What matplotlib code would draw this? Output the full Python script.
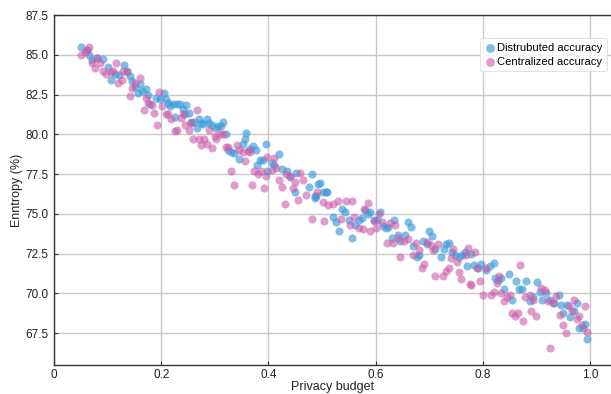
import matplotlib
matplotlib.use("Agg")
import matplotlib.pyplot as plt
from matplotlib.ticker import FuncFormatter

plt.rcParams['font.family'] = ['Liberation Sans', 'DejaVu Sans']

# Distributed accuracy (blue)
dist_x = [0.050, 0.062, 0.065, 0.070, 0.080, 0.091, 0.100, 0.106, 0.114, 0.121,
          0.131, 0.137, 0.141, 0.146, 0.151, 0.157, 0.160, 0.165, 0.171, 0.176,
          0.179, 0.190, 0.197, 0.206, 0.208, 0.212, 0.216, 0.222, 0.226, 0.230,
          0.235, 0.241, 0.245, 0.246, 0.251, 0.256, 0.262, 0.266, 0.270, 0.274,
          0.278, 0.285, 0.289, 0.295, 0.302, 0.306, 0.311, 0.316, 0.321, 0.325,
          0.330, 0.335, 0.346, 0.352, 0.356, 0.359, 0.366, 0.372, 0.376, 0.379,
          0.384, 0.389, 0.395, 0.398, 0.406, 0.410, 0.420, 0.426, 0.434, 0.440,
          0.450, 0.451, 0.476, 0.481, 0.486, 0.487, 0.488, 0.493, 0.496, 0.502,
          0.507, 0.510, 0.521, 0.526, 0.531, 0.537, 0.543, 0.551, 0.555, 0.561,
          0.568, 0.574, 0.580, 0.586, 0.590, 0.596, 0.602, 0.608, 0.613, 0.619,
          0.623, 0.630, 0.635, 0.641, 0.645, 0.655, 0.660, 0.666, 0.670, 0.677,
          0.680, 0.689, 0.695, 0.700, 0.706, 0.711, 0.722, 0.727, 0.732, 0.736,
          0.743, 0.748, 0.755, 0.761, 0.766, 0.770, 0.778, 0.784, 0.791, 0.796,
          0.805, 0.813, 0.820, 0.822, 0.828, 0.833, 0.840, 0.848, 0.855, 0.861,
          0.867, 0.873, 0.881, 0.888, 0.894, 0.901, 0.906, 0.911, 0.917, 0.925,
          0.932, 0.942, 0.945, 0.950, 0.956, 0.962, 0.970, 0.976, 0.980, 0.986,
          0.990, 0.995]
dist_y = [85.52, 85.29, 85.00, 84.70, 84.80, 84.75, 84.23, 83.40, 83.80, 83.70,
          84.35, 84.00, 83.66, 83.35, 82.96, 82.58, 83.16, 82.70, 82.83, 82.46,
          81.90, 82.30, 82.20, 82.58, 82.20, 82.00, 81.75, 81.90, 81.10, 81.90,
          81.90, 81.58, 81.30, 81.85, 81.33, 80.75, 80.80, 80.40, 80.98, 80.70,
          80.65, 80.94, 80.70, 80.60, 80.37, 80.50, 80.50, 80.80, 80.02, 79.04,
          78.90, 78.80, 78.46, 79.40, 79.70, 80.08, 79.10, 79.29, 79.00, 78.10,
          78.40, 78.40, 79.37, 77.70, 78.20, 78.10, 78.75, 77.80, 77.70, 77.30,
          76.40, 77.60, 76.70, 77.50, 76.00, 76.10, 76.10, 76.90, 76.95, 76.40,
          76.40, 76.40, 74.80, 74.50, 73.90, 75.30, 75.10, 74.60, 73.50, 74.30,
          74.60, 74.75, 75.25, 75.00, 75.10, 74.60, 74.60, 75.10, 74.25, 74.10,
          74.20, 73.50, 74.60, 73.70, 73.30, 73.70, 74.50, 74.20, 72.96, 72.27,
          72.40, 73.30, 73.10, 73.90, 73.60, 72.80, 72.30, 72.80, 73.10, 73.20,
          72.60, 72.40, 72.30, 72.40, 72.60, 71.70, 72.50, 71.80, 71.60, 71.85,
          71.50, 71.70, 71.90, 70.96, 70.86, 70.96, 70.30, 71.20, 69.60, 70.80,
          70.30, 70.26, 70.80, 69.50, 69.80, 70.70, 70.10, 69.60, 70.00, 69.60,
          69.40, 69.90, 69.30, 68.80, 69.30, 68.50, 68.90, 69.40, 67.83, 67.83,
          68.10, 67.16]

# Centralized accuracy (magenta)
cent_x = [0.050, 0.058, 0.062, 0.065, 0.070, 0.076, 0.081, 0.086, 0.091, 0.097,
          0.106, 0.110, 0.116, 0.120, 0.126, 0.129, 0.136, 0.141, 0.145, 0.151,
          0.160, 0.167, 0.171, 0.176, 0.182, 0.187, 0.192, 0.195, 0.201, 0.209,
          0.213, 0.219, 0.226, 0.230, 0.236, 0.240, 0.245, 0.251, 0.255, 0.260,
          0.266, 0.270, 0.274, 0.280, 0.285, 0.289, 0.295, 0.300, 0.303, 0.310,
          0.315, 0.321, 0.325, 0.330, 0.336, 0.341, 0.346, 0.352, 0.356, 0.361,
          0.366, 0.370, 0.374, 0.381, 0.387, 0.391, 0.395, 0.398, 0.406, 0.411,
          0.415, 0.420, 0.426, 0.431, 0.432, 0.440, 0.445, 0.450, 0.455, 0.459,
          0.465, 0.470, 0.481, 0.490, 0.502, 0.504, 0.512, 0.521, 0.530, 0.535,
          0.545, 0.552, 0.555, 0.560, 0.568, 0.576, 0.579, 0.585, 0.590, 0.597,
          0.601, 0.606, 0.611, 0.621, 0.626, 0.632, 0.636, 0.641, 0.645, 0.652,
          0.661, 0.669, 0.675, 0.681, 0.686, 0.691, 0.695, 0.703, 0.707, 0.711,
          0.716, 0.725, 0.731, 0.737, 0.740, 0.744, 0.751, 0.756, 0.760, 0.768,
          0.772, 0.776, 0.778, 0.785, 0.789, 0.795, 0.800, 0.806, 0.815, 0.820,
          0.826, 0.831, 0.834, 0.840, 0.845, 0.850, 0.854, 0.860, 0.866, 0.869,
          0.874, 0.879, 0.887, 0.889, 0.894, 0.900, 0.908, 0.916, 0.922, 0.925,
          0.930, 0.936, 0.944, 0.950, 0.955, 0.961, 0.966, 0.970, 0.975, 0.980,
          0.985, 0.990, 0.995]
cent_y = [84.96, 85.20, 85.30, 85.50, 84.50, 84.20, 84.80, 84.50, 84.00, 83.80,
          83.90, 84.00, 84.46, 83.20, 83.40, 84.00, 83.90, 82.38, 82.90, 83.20,
          83.56, 81.52, 82.30, 82.00, 81.85, 81.31, 80.60, 82.67, 81.76, 81.30,
          81.30, 80.96, 80.23, 80.30, 81.00, 81.30, 80.60, 80.30, 80.70, 79.70,
          81.50, 79.70, 79.35, 79.70, 79.40, 80.30, 79.14, 79.90, 79.70, 80.00,
          80.00, 79.20, 79.20, 77.70, 76.83, 79.30, 79.00, 78.90, 78.30, 78.95,
          78.90, 76.80, 77.70, 77.50, 77.70, 76.60, 77.35, 78.55, 77.75, 78.50,
          77.90, 77.10, 76.70, 75.60, 77.50, 77.40, 76.60, 77.00, 75.90, 77.60,
          77.10, 76.20, 74.66, 76.40, 75.75, 74.56, 75.55, 75.60, 75.80, 74.70,
          75.80, 74.30, 75.80, 74.80, 74.10, 74.04, 75.30, 75.70, 73.90, 74.56,
          74.10, 75.00, 74.50, 73.20, 74.40, 73.14, 74.30, 73.50, 72.27, 73.30,
          73.40, 72.40, 73.20, 72.70, 71.58, 71.85, 73.25, 73.04, 72.70, 71.10,
          73.08, 71.10, 71.40, 71.60, 72.25, 72.80, 72.00, 71.33, 70.90, 72.40,
          72.87, 70.58, 70.50, 72.60, 71.60, 70.80, 69.87, 71.60, 69.87, 70.10,
          70.64, 71.10, 70.00, 69.50, 69.80, 69.90, 68.77, 68.60, 68.80, 71.80,
          68.25, 69.80, 69.90, 68.90, 69.60, 68.60, 70.35, 70.20, 69.50, 66.58,
          69.40, 69.85, 68.66, 68.04, 67.50, 69.20, 68.90, 69.60, 68.40, 68.60,
          68.00, 69.20, 67.56]

x_ticks = [0, 0.2, 0.4, 0.6, 0.8, 1.0]
y_ticks = [67.5, 70.0, 72.5, 75.0, 77.5, 80.0, 82.5, 85.0, 87.5]

W, H = 611, 394
fig = plt.figure(figsize=(W / 100, H / 100), dpi=100)
ax = fig.add_axes([54 / W, 29 / H, (611 - 54) / W, 350 / H])

ax.scatter(dist_x, dist_y, s=34, color='#3a9ad9', alpha=0.65, linewidths=0,
           label='Distrubuted accuracy', zorder=3)
ax.scatter(cent_x, cent_y, s=34, color='#cc5aa8', alpha=0.6, linewidths=0,
           label='Centralized accuracy', zorder=3)

ax.set_xlim(0, 1.039)
ax.set_ylim(65.5, 87.5)
ax.set_xticks(x_ticks)
ax.set_yticks(y_ticks)
ax.xaxis.set_major_formatter(FuncFormatter(lambda v, p: '0' if v == 0 else f'{v:.1f}'))
ax.yaxis.set_major_formatter(FuncFormatter(lambda v, p: f'{v:.1f}'))
ax.grid(True, color='#c8c8c8', linewidth=1.0, zorder=0)
ax.set_axisbelow(True)
for side in ['left', 'bottom', 'top']:
    ax.spines[side].set_color('#333333')
    ax.spines[side].set_linewidth(1.0)
ax.spines['right'].set_visible(False)
ax.tick_params(axis='both', labelsize=8.5, length=3, direction='in',
               color='#333333', labelcolor='#222222')
ax.tick_params(axis='x', pad=3)
ax.tick_params(axis='y', pad=4)

ax.set_xlabel('Privacy budget', fontsize=9, color='#222222', labelpad=0)
ax.set_ylabel('Enntropy (%)', fontsize=9, color='#222222', labelpad=2)

leg = ax.legend(loc='upper right', bbox_to_anchor=(0.993, 0.934), borderaxespad=0,
                fontsize=8, frameon=True, fancybox=True, handletextpad=0.2,
                handlelength=1.0, borderpad=0.4, labelspacing=0.4, markerscale=1.1)
leg.get_frame().set_edgecolor('#dddddd')
leg.get_frame().set_linewidth(0.8)

fig.savefig('out.png', dpi=100)
